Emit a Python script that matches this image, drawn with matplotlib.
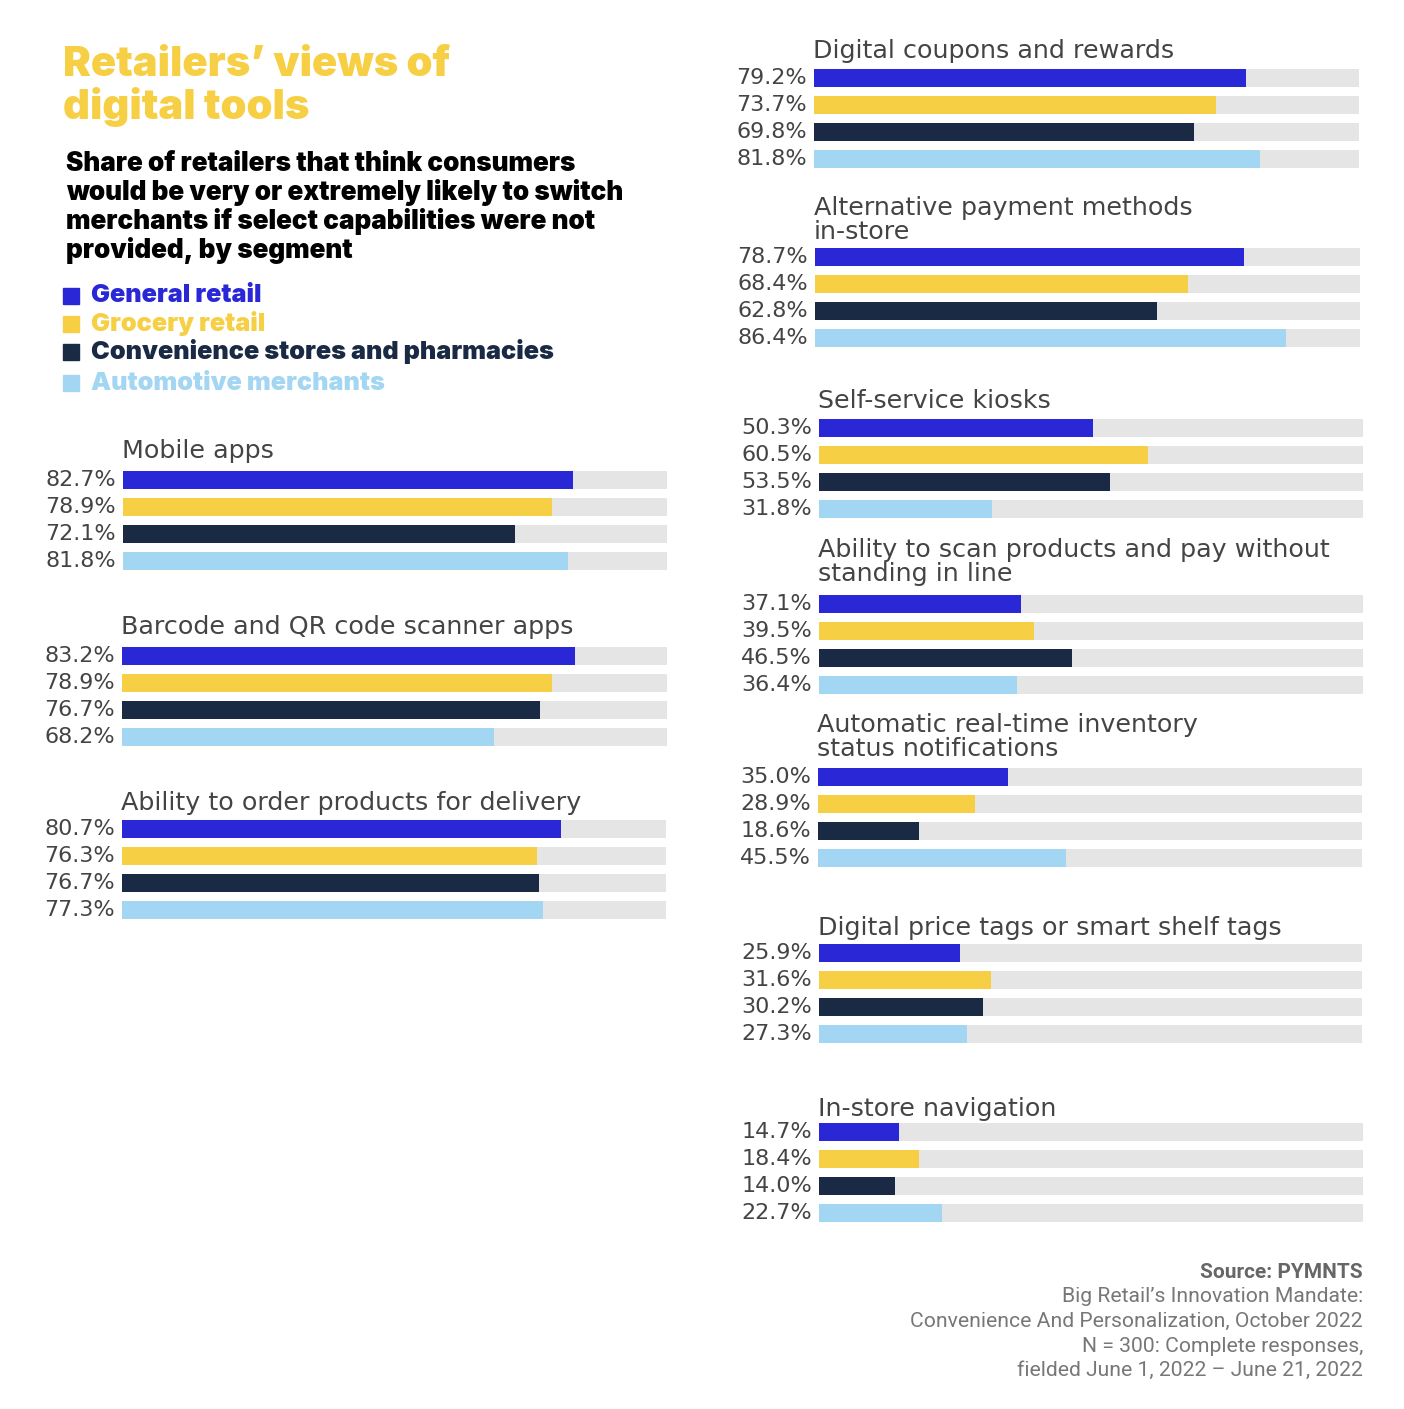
import matplotlib
matplotlib.use("Agg")
import matplotlib.pyplot as plt
from matplotlib.patches import Rectangle

# data
groups = [
    "Mobile apps",
    "Barcode and QR code scanner apps",
    "Ability to order products for delivery",
    "Digital coupons and rewards",
    "Alternative payment methods\nin-store",
    "Self-service kiosks",
    "Ability to scan products and pay without\nstanding in line",
    "Automatic real-time inventory\nstatus notifications",
    "Digital price tags or smart shelf tags",
    "In-store navigation",
]
segments = ["General retail", "Grocery retail",
            "Convenience stores and pharmacies", "Automotive merchants"]
general = [82.7, 83.2, 80.7, 79.2, 78.7, 50.3, 37.1, 35.0, 25.9, 14.7]
grocery = [78.9, 78.9, 76.3, 73.7, 68.4, 60.5, 39.5, 28.9, 31.6, 18.4]
convenience = [72.1, 76.7, 76.7, 69.8, 62.8, 53.5, 46.5, 18.6, 30.2, 14.0]
automotive = [81.8, 68.2, 77.3, 81.8, 86.4, 31.8, 36.4, 45.5, 27.3, 22.7]

colors = ["#2A27D6", "#F6CF45", "#1A2944", "#A3D6F3"]
track_color = "#E5E5E5"
text_gray = "#444444"

# layout in pixels: track left/right, first bar centre, title top
track_x0 = [123, 122, 122, 814, 815, 819, 819, 818, 819, 819]
track_x1 = [667, 667, 666, 1359, 1360, 1363, 1363, 1362, 1362, 1363]
first_bar = [480, 656, 829, 78, 257, 428, 604, 777, 953, 1132]
title_top = [439, 615, 791, 39, 196, 389, 538, 713, 916, 1097]

W, H = 1404, 1409
fig = plt.figure(figsize=(W / 100, H / 100), dpi=100)
fig.patch.set_facecolor("white")


def fx(px):
    return px / W


def fy(py):
    return 1 - py / H


# header
fig.text(fx(63), fy(46), "Retailers\u2019 views of\ndigital tools", family="Inter",
         weight="black", size=30, color="#F6CF45", va="top", ha="left", linespacing=1.1)
fig.text(fx(66), fy(151), "Share of retailers that think consumers\nwould be very or extremely likely to switch\n"
         "merchants if select capabilities were not\nprovided, by segment",
         family="Inter", weight="black", size=18.8, color="black", va="top", ha="left",
         linespacing=1.1)

legend_y = [296, 324, 352, 383]
for seg, col, ly in zip(segments, colors, legend_y):
    fig.add_artist(Rectangle((fx(63), fy(ly + 8)), fx(16), 16 / H,
                             transform=fig.transFigure, color=col))
    fig.text(fx(91), fy(ly), seg, family="Inter", weight="black", size=18.2,
             color=col, va="center", ha="left")

series = [general, grocery, convenience, automotive]
bar_gap = 27
bar_h = 18

for g, name in enumerate(groups):
    x0, x1 = track_x0[g], track_x1[g]
    top = first_bar[g] - bar_gap / 2
    ax = fig.add_axes([fx(x0), fy(top + 4 * bar_gap), fx(x1 - x0), 4 * bar_gap / H])
    ypos = range(4)
    vals = [s[g] for s in series]
    ax.barh(ypos, [100] * 4, height=bar_h / bar_gap, color=track_color, left=0)
    ax.barh(ypos, vals, height=bar_h / bar_gap, color=colors)
    ax.set_xlim(0, 100)
    ax.set_ylim(3.5, -0.5)
    ax.axis("off")
    for i, v in enumerate(vals):
        ax.annotate(f"{v:.1f}%", xy=(0, i), xycoords=("axes fraction", "data"),
                    xytext=(-5, 0), textcoords="offset points", ha="right", va="center",
                    family="DejaVu Sans", size=16, color=text_gray)
    fig.text(fx(x0 - 1), fy(title_top[g]), name, family="DejaVu Sans", size=18.3,
             color=text_gray, va="top", ha="left", linespacing=1.0)

# source note
fig.text(fx(1363), fy(1273), "Source: PYMNTS", family="Roboto", weight="bold", size=15,
         color="#666666", ha="right", va="center")
notes = ["Big Retail\u2019s Innovation Mandate:",
         "Convenience And Personalization, October 2022",
         "N = 300: Complete responses,",
         "fielded June 1, 2022 \u2013 June 21, 2022"]
for k, line in enumerate(notes):
    fig.text(fx(1363), fy(1297 + 24.5 * k), line, family="Roboto", weight="normal",
             size=15.2, color="#777777", ha="right", va="center")

fig.savefig("out.png", dpi=100)
